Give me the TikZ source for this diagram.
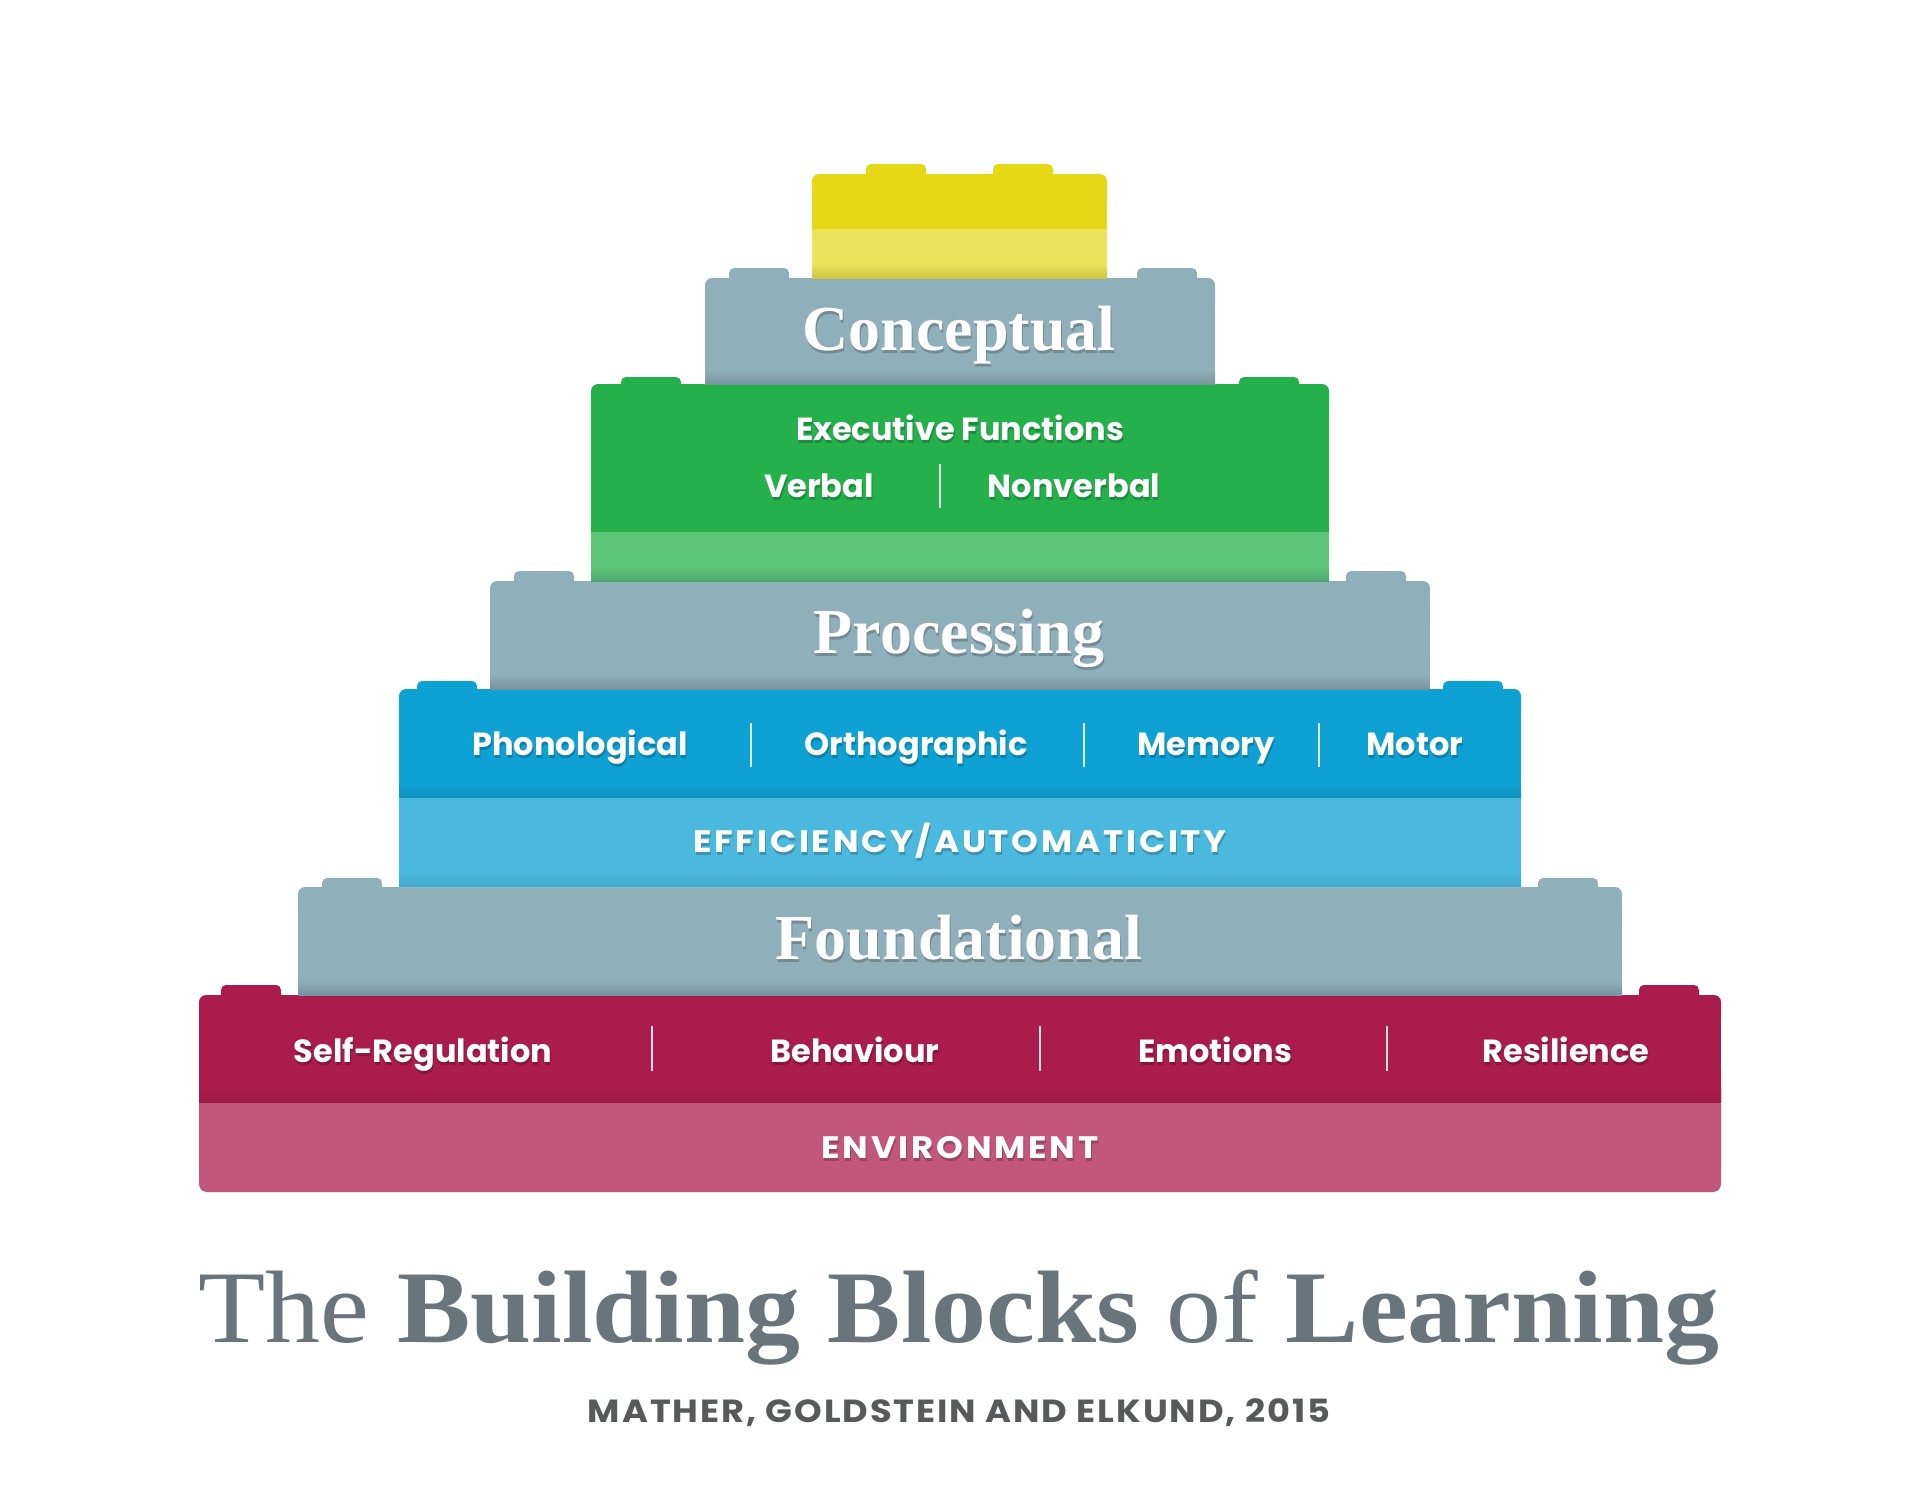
\documentclass[tikz,border=0pt]{standalone}
\usepackage{fontspec}
\setmainfont{Liberation Serif}
\newfontfamily\labfont{Poppins}
\newfontfamily\widefont{Poppins}[FakeStretch=1.1]
\definecolor{cYd}{HTML}{E4D817}
\definecolor{cYl}{HTML}{EBE45A}
\definecolor{cYs}{HTML}{CFC444}
\definecolor{cG}{HTML}{8FAFBA}
\definecolor{cGs}{HTML}{7892A0}
\definecolor{cEd}{HTML}{24B14B}
\definecolor{cEl}{HTML}{5EC67B}
\definecolor{cEs}{HTML}{4CA86A}
\definecolor{cBd}{HTML}{0EA2D4}
\definecolor{cBds}{HTML}{0C93C2}
\definecolor{cBl}{HTML}{4BB8DE}
\definecolor{cBls}{HTML}{43A8CB}
\definecolor{cRd}{HTML}{AA1C4B}
\definecolor{cRds}{HTML}{9C1944}
\definecolor{cRl}{HTML}{C2577B}
\definecolor{cTitle}{HTML}{69747B}
\definecolor{cSub}{HTML}{58595B}
\newcommand\bk[5]{%
  \fill[#5, rounded corners=7pt] (#1,#3) rectangle (#2,#3+30);
  \fill[#5] (#1,#3+15) rectangle (#2,#4);}
\newcommand\stud[3]{\fill[#3, rounded corners=5pt] (#1,#2) rectangle (#1+60,#2+20);}
\newcommand\fade[5]{\shade[top color=#4, bottom color=#5] (#1,#3-14) rectangle (#2,#3);}
\newcommand\lbl[4]{%
  \node[lab, text=black, opacity=.2, anchor=base] (#1s) at (#2+1,#3+3) {#4};
  \node[lab, anchor=base] (#1) at (#2,#3) {#4};}
\newcommand\hd[4]{%
  \node[head, text=black, opacity=.2, anchor=base] (#1s) at (#2+1,#3+3) {#4};
  \node[head, anchor=base] (#1) at (#2,#3) {#4};}
\begin{document}
\begin{tikzpicture}[x=1pt,y=-1pt,
  lab/.style={font=\labfont\bfseries\fontsize{32}{32}\selectfont, text=white, inner sep=0pt},
  caps/.style={font=\widefont\bfseries\fontsize{31}{31}\selectfont\addfontfeature{LetterSpace=9}, text=white, inner sep=0pt},
  head/.style={font=\bfseries\fontsize{64}{64}\selectfont, text=white, inner sep=0pt},
  divider/.style={draw=white, line width=1.2pt, opacity=.85}]
\useasboundingbox[fill=white] (0,0) rectangle (1920,1505);
% ---- red (bottom) ----
\stud{221}{985}{cRd}\stud{1639}{985}{cRd}
\fill[cRl, rounded corners=8pt] (199,1060) rectangle (1721,1192);
\bk{199}{1721}{995}{1102}{cRd}
\fade{199}{1721}{1102}{cRd}{cRds}
% ---- foundational ----
\stud{322}{878}{cG}\stud{1538}{878}{cG}
\bk{298}{1622}{887}{995}{cG}
\fade{298}{1622}{995}{cG}{cGs}
% ---- blue ----
\stud{417}{681}{cBd}\stud{1443}{681}{cBd}
\bk{399}{1521}{689}{886}{cBd}
\fill[cBl] (399,797) rectangle (1521,886);
\fade{399}{1521}{797}{cBd}{cBds}
\fade{399}{1521}{886}{cBl}{cBls}
% ---- processing ----
\stud{514}{571}{cG}\stud{1346}{571}{cG}
\bk{490}{1430}{581}{689}{cG}
\fade{490}{1430}{689}{cG}{cGs}
% ---- green ----
\stud{621}{377}{cEd}\stud{1239}{377}{cEd}
\bk{591}{1329}{384}{581}{cEd}
\fill[cEl] (591,532) rectangle (1329,581);
\fade{591}{1329}{581}{cEl}{cEs}
% ---- conceptual ----
\stud{729}{268}{cG}\stud{1137}{268}{cG}
\bk{705}{1215}{278}{384}{cG}
\fade{705}{1215}{384}{cG}{cGs}
% ---- yellow ----
\stud{866}{164}{cYd}\stud{993}{164}{cYd}
\bk{812}{1107}{174}{278}{cYd}
\fill[cYl] (812,229) rectangle (1107,278);
\fade{812}{1107}{278}{cYl}{cYs}
% ---- headings ----
\hd{concept}{959}{350}{Conceptual}
\hd{process}{959}{653}{Processing}
\hd{found}{959}{959}{Foundational}
% ---- executive functions ----
\lbl{exec}{960}{440}{Executive Functions}
\lbl{verbal}{819}{497}{Verbal}
\lbl{nonverbal}{1074}{497}{Nonverbal}
\draw[divider] (940,464) -- (940,508);
% ---- blue labels ----
\lbl{phon}{580}{755}{Phonological}
\lbl{ortho}{916}{755}{Orthographic}
\lbl{memory}{1206}{755}{Memory}
\lbl{motor}{1415}{755}{Motor}
\draw[divider] (751,723) -- (751,767);
\draw[divider] (1084,723) -- (1084,767);
\draw[divider] (1319,723) -- (1319,767);
\node[caps, text=black, opacity=.2, anchor=base] (effs) at (961,855) {EFFICIENCY/AUTOMATICITY};
\node[caps, anchor=base] (eff) at (960,852) {EFFICIENCY/AUTOMATICITY};
% ---- red labels ----
\lbl{selfreg}{423}{1062}{Self-Regulation}
\lbl{behav}{855}{1062}{Behaviour}
\lbl{emot}{1215}{1062}{Emotions}
\lbl{resil}{1566}{1062}{Resilience}
\draw[divider] (652,1026) -- (652,1071);
\draw[divider] (1040,1026) -- (1040,1071);
\draw[divider] (1387,1026) -- (1387,1071);
\node[caps, text=black, opacity=.2, anchor=base] (envs) at (961,1161) {ENVIRONMENT};
\node[caps, anchor=base] (env) at (960,1158) {ENVIRONMENT};
% ---- title ----
\node[anchor=base, inner sep=0pt, text=cTitle, font=\fontsize{103}{103}\selectfont] (title) at (959,1342)
  {\scalebox{1.067}[1]{The \textbf{Building Blocks} of \textbf{Learning}}};
\node[anchor=base, inner sep=0pt, text=cSub, font=\widefont\bfseries\fontsize{32}{32}\selectfont\addfontfeature{LetterSpace=6}] (sub) at (959,1422)
  {MATHER, GOLDSTEIN AND ELKUND, 2015};
\end{tikzpicture}
\end{document}
